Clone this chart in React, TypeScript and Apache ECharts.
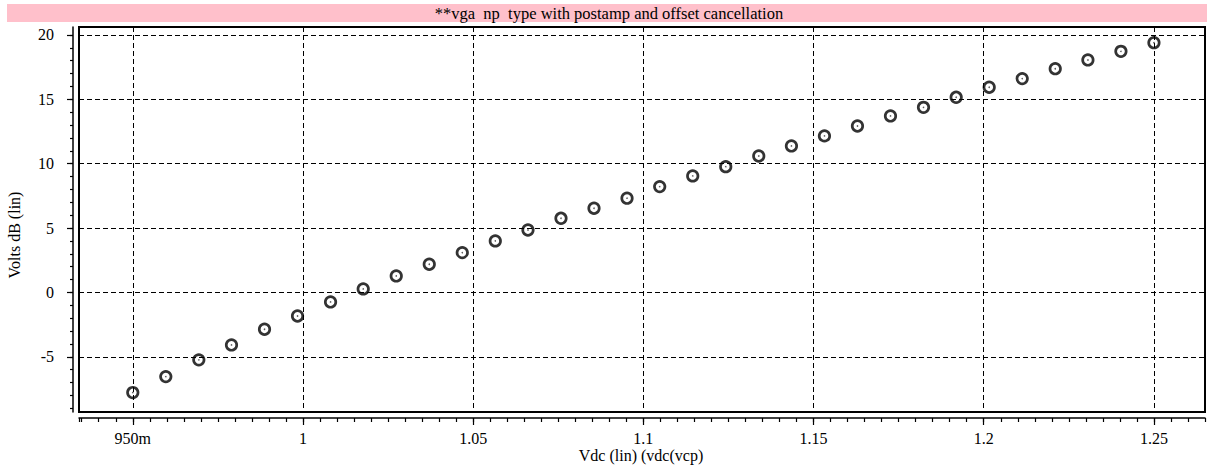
import { useEffect, useRef } from "react";
import * as echarts from "echarts";

// Sweep of the control voltage (V) and the resulting gain (dB)
const VDC = [
  0.95, 0.9597, 0.9694, 0.979, 0.9887, 0.9984, 1.0081, 1.0177, 1.0274, 1.0371,
  1.0468, 1.0565, 1.0661, 1.0758, 1.0855, 1.0952, 1.1048, 1.1145, 1.1242, 1.1339,
  1.1435, 1.1532, 1.1629, 1.1726, 1.1823, 1.1919, 1.2016, 1.2113, 1.221, 1.2306,
  1.2403, 1.25,
];
const GAIN_DB = [
  -7.78, -6.54, -5.24, -4.08, -2.86, -1.83, -0.74, 0.27, 1.28, 2.19,
  3.09, 4.0, 4.85, 5.76, 6.54, 7.32, 8.22, 9.05, 9.77, 10.6,
  11.38, 12.16, 12.93, 13.71, 14.38, 15.16, 15.94, 16.61, 17.38, 18.06,
  18.73, 19.4,
];

const TITLE = "**vga  np  type with postamp and offset cancellation";
const X_NAME = "Vdc (lin) (vdc(vcp)";
const Y_NAME = "Volts dB (lin)";

const X_MAJOR = [0.95, 1.0, 1.05, 1.1, 1.15, 1.2, 1.25];
const X_LABELS = ["950m", "1", "1.05", "1.1", "1.15", "1.2", "1.25"];
const Y_MAJOR = [-5, 0, 5, 10, 15, 20];
const Y_LABELS = ["-5", "0", "5", "10", "15", "20"];

const X_MIN = 0.9342;
const X_MAX = 1.265;
const Y_MIN = -9.29;
const Y_MAX = 20.62;

// minor tick positions: every 5m on x, every 1 on y
const X_MINOR: number[] = [X_MIN];
for (let k = 187; k <= 253; k++) X_MINOR.push(Math.round(k * 5) / 1000);
const Y_MINOR: number[] = [];
for (let v = -9; v <= 20; v++) Y_MINOR.push(v);

const FONT = "'Liberation Serif', 'Times New Roman', serif";

function labelFor(values: number[], labels: string[], v: number) {
  const i = values.findIndex((t) => Math.abs(t - v) < 1e-9);
  return i >= 0 ? labels[i] : "";
}

export default function App() {
  const ref = useRef<HTMLDivElement>(null);

  useEffect(() => {
    if (!ref.current) return;
    const chart = echarts.init(ref.current, null, { renderer: "svg" });
    const points = VDC.map((x, i) => [x, GAIN_DB[i]]);
    const dashed = { type: [5, 3] as any, color: "#000", width: 1 };
    const textStyle = (text: string, size: number) => ({
      text,
      fontFamily: FONT,
      fontSize: size,
      fill: "#000",
      align: "center",
      verticalAlign: "middle",
    });

    chart.setOption({
      animation: false,
      backgroundColor: "#fff",
      grid: {
        left: 79,
        top: 27,
        width: 1126,
        height: 385,
        show: true,
        borderColor: "#000",
        borderWidth: 2,
        backgroundColor: "transparent",
        containLabel: false,
        outerBoundsMode: "none",
      },
      graphic: [
        {
          type: "rect",
          shape: { x: 7, y: 4, width: 1200, height: 18 },
          style: { fill: "#FFC0CB" },
          silent: true,
        },
        { type: "text", x: 609, y: 13.5, style: textStyle(TITLE, 16.5), silent: true },
        {
          type: "text",
          x: 14,
          y: 235,
          rotation: Math.PI / 2,
          style: textStyle(Y_NAME, 16),
          silent: true,
        },
        { type: "text", x: 641, y: 455, style: textStyle(X_NAME, 16), silent: true },
      ],
      xAxis: [
        {
          type: "value",
          min: X_MIN,
          max: X_MAX,
          position: "bottom",
          offset: 6,
          axisLine: { show: true, onZero: false, lineStyle: { color: "#000", width: 1.5 } },
          axisTick: {
            show: true,
            customValues: X_MAJOR,
            length: 7,
            lineStyle: { color: "#000", width: 1.2 },
          },
          axisLabel: {
            customValues: X_MAJOR,
            margin: 12,
            fontFamily: FONT,
            fontSize: 16,
            color: "#000",
            formatter: (v: number) => labelFor(X_MAJOR, X_LABELS, v),
          },
          splitLine: { show: true, lineStyle: dashed },
        },
        {
          type: "value",
          min: X_MIN,
          max: X_MAX,
          position: "bottom",
          offset: 6,
          axisLine: { show: false, onZero: false },
          axisTick: {
            show: true,
            customValues: X_MINOR,
            length: 4,
            lineStyle: { color: "#000", width: 1.2 },
          },
          axisLabel: { show: false },
          splitLine: { show: false },
        },
      ],
      yAxis: [
        {
          type: "value",
          min: Y_MIN,
          max: Y_MAX,
          position: "left",
          offset: 6,
          axisLine: { show: true, onZero: false, lineStyle: { color: "#000", width: 1.5 } },
          axisTick: {
            show: true,
            customValues: Y_MAJOR,
            length: 6,
            lineStyle: { color: "#000", width: 1.2 },
          },
          axisLabel: {
            customValues: Y_MAJOR,
            margin: 19,
            fontFamily: FONT,
            fontSize: 16,
            color: "#000",
            formatter: (v: number) => labelFor(Y_MAJOR, Y_LABELS, v),
          },
          splitLine: { show: true, lineStyle: dashed },
        },
        {
          type: "value",
          min: Y_MIN,
          max: Y_MAX,
          position: "left",
          offset: 6,
          axisLine: { show: false, onZero: false },
          axisTick: {
            show: true,
            customValues: Y_MINOR,
            length: 3,
            lineStyle: { color: "#000", width: 1.2 },
          },
          axisLabel: { show: false },
          splitLine: { show: false },
        },
      ],
      series: [
        {
          type: "scatter",
          xAxisIndex: 0,
          yAxisIndex: 0,
          data: points,
          symbol: "circle",
          symbolSize: 10.5,
          silent: true,
          itemStyle: { color: "rgba(0,0,0,0)", borderColor: "#000", borderWidth: 2.7 },
          z: 3,
        },
        {
          type: "scatter",
          xAxisIndex: 0,
          yAxisIndex: 0,
          data: points,
          symbol: "circle",
          symbolSize: 1.6,
          silent: true,
          itemStyle: { color: "#333" },
          z: 4,
        },
      ],
    });

    return () => chart.dispose();
  }, []);

  return (
    <div
      ref={ref}
      style={{ position: "fixed", left: 0, top: 0, width: 1208, height: 465, background: "#fff" }}
    />
  );
}
